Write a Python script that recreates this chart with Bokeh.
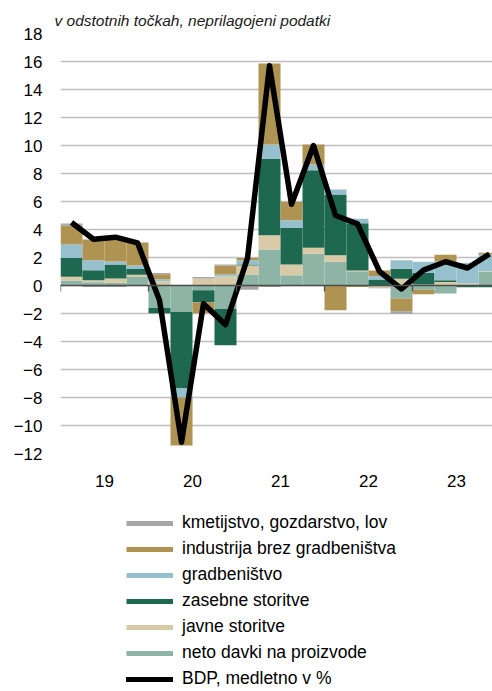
import numpy as np
from bokeh.plotting import figure
from bokeh.layouts import column
from bokeh.models import (ColumnDataSource, Range1d, LinearAxis, FixedTicker,
                          Legend, LegendItem)
from bokeh.embed import file_html
from bokeh.resources import INLINE

# ---------------- data ----------------
quarters = ["2019Q1", "2019Q2", "2019Q3", "2019Q4",
            "2020Q1", "2020Q2", "2020Q3", "2020Q4",
            "2021Q1", "2021Q2", "2021Q3", "2021Q4",
            "2022Q1", "2022Q2", "2022Q3", "2022Q4",
            "2023Q1", "2023Q2", "2023Q3", "2023Q4"]
year_labels = ["19", "20", "21", "22", "23"]

kmetijstvo = [0.15, -0.1, -0.1, 0.0, 0.1, 0.0, 0.1, 0.07, -0.3, -0.1,
              0.0, 0.0, 0.0, 0.0, -0.05, -0.18, 0.0, 0.0, 0.0, 0.0]
industrija = [1.35, 1.47, 1.74, 1.65, 0.35, -3.45, -0.8, 0.64, 0.17, 5.79,
              1.31, 1.43, -1.76, -0.1, 0.4, -0.91, -0.32, 0.47, 0.0, 0.12]
gradbenistvo = [0.95, 0.72, 0.21, 0.26, 0.15, -0.62, 0.0, 0.15, 0.3, 1.03,
                0.55, 0.4, 0.36, 0.31, 0.24, 0.61, 0.8, 1.35, 1.45, 1.2]
zasebne = [1.35, 0.71, 1.0, 0.4, -0.38, -5.46, -0.85, -2.6, 0.07, 5.45,
           2.61, 5.55, 4.34, 3.38, 0.43, 0.71, 0.83, 0.12, -0.12, -0.12]
javne = [0.27, 0.14, 0.31, 0.17, 0.3, 0.0, 0.5, 0.64, 0.64, 1.02,
         0.76, 0.43, 0.47, 0.05, -0.15, 0.48, 0.07, 0.25, 0.15, 0.05]
davki = [0.35, 0.24, 0.19, 0.6, -1.6, -1.9, -0.34, -1.67, 0.79, 2.57,
         0.74, 2.26, 1.69, 1.02, 0.0, -0.93, -0.3, -0.57, 0.0, 0.97]
bdp = [4.5, 3.3, 3.45, 3.05, -1.05, -11.2, -1.3, -2.8, 1.95, 15.7,
       5.8, 10.0, 5.0, 4.4, 1.0, -0.25, 1.1, 1.7, 1.25, 2.25]

series_names = ["kmetijstvo, gozdarstvo, lov", "industrija brez gradbeništva",
                "gradbeništvo", "zasebne storitve", "javne storitve",
                "neto davki na proizvode"]
series_values = [kmetijstvo, industrija, gradbenistvo, zasebne, javne, davki]
series_colors = ["#A6A6A6", "#AE9352", "#97C0CF", "#1F6850", "#D9CAA7", "#8EB4A5"]
line_name = "BDP, medletno v %"

# ---------------- sources ----------------
n = len(quarters)
x = [i + 0.5 for i in range(n)]
keys = ["kmet", "ind", "gradb", "zas", "jav", "dav"]
pos = {"x": x}
neg = {"x": x}
for k, vals in zip(keys, series_values):
    pos[k] = [max(v, 0.0) for v in vals]
    neg[k] = [min(v, 0.0) for v in vals]
pos_src = ColumnDataSource(pos)
neg_src = ColumnDataSource(neg)
line_src = ColumnDataSource(dict(x=x, y=bdp))

stack_keys = keys[::-1]          # bottom of stack first
stack_colors = series_colors[::-1]

FONT = "Liberation Sans"

p = figure(width=492, height=508,
           x_range=Range1d(0, 19.636), y_range=Range1d(-12, 18),
           output_backend="svg", toolbar_location=None,
           x_axis_location=None,
           min_border_left=60, min_border_right=0,
           min_border_top=33, min_border_bottom=55)
p.outline_line_color = None
p.background_fill_color = "white"
p.border_fill_color = "white"

# subtitle
p.title.text = "v odstotnih točkah, neprilagojeni podatki"
p.title.text_font = FONT
p.title.text_font_style = "italic"
p.title.text_font_size = "15.5px"
p.title.text_color = "#1a1a1a"
p.title.align = "left"
p.title.offset = -6
p.title.standoff = 9

# y axis
yticks = list(range(-12, 19, 2))
p.yaxis.ticker = FixedTicker(ticks=yticks)
p.yaxis.axis_line_color = None
p.yaxis.major_tick_line_color = None
p.yaxis.minor_tick_line_color = None
p.yaxis.major_tick_out = 0
p.yaxis.major_tick_in = 0
p.yaxis.major_label_standoff = 18
p.yaxis.major_label_text_font = FONT
p.yaxis.major_label_text_font_size = "17px"
p.yaxis.major_label_text_color = "black"
p.ygrid.ticker = FixedTicker(ticks=yticks)
p.ygrid.grid_line_color = "#BFBFBF"
p.ygrid.grid_line_width = 1.5
p.xgrid.grid_line_color = None

# bars
p.vbar_stack(stack_keys, x="x", width=1.0, source=pos_src,
             color=stack_colors, line_color=None)
p.vbar_stack(stack_keys, x="x", width=1.0, source=neg_src,
             color=stack_colors, line_color=None)

# line
p.line("x", "y", source=line_src, line_color="black",
       line_width=5.5, line_join="round")

# x label axis (year labels)
centers = [4 * i + 2 for i in range(len(year_labels))]
lab_axis = LinearAxis(ticker=FixedTicker(ticks=centers),
                      major_label_overrides={c: t for c, t in zip(centers, year_labels)},
                      axis_line_color=None, major_tick_line_color=None,
                      minor_tick_line_color=None, major_tick_out=0, major_tick_in=0,
                      major_label_standoff=21,
                      major_label_text_font=FONT,
                      major_label_text_font_size="17px",
                      major_label_text_color="black")
p.add_layout(lab_axis, "below")

# zero axis with year boundary ticks
bounds = [4 * i for i in range(len(year_labels) + 1)]
zero_axis = LinearAxis(fixed_location=0, ticker=FixedTicker(ticks=bounds),
                       axis_line_color="#4d4d4d", axis_line_width=1.3,
                       major_tick_line_color="#4d4d4d", major_tick_line_width=1.3,
                       major_tick_out=6, major_tick_in=0,
                       minor_tick_line_color=None,
                       major_label_standoff=0,
                       major_label_text_color=None,
                       major_label_text_font_size="1px")
p.add_layout(zero_axis, "below")

# ---------------- legend figure ----------------
lg = figure(width=492, height=183, output_backend="svg", toolbar_location=None,
            x_axis_location=None, y_axis_location=None,
            x_range=Range1d(0, 1), y_range=Range1d(0, 1),
            min_border=0, min_border_left=0, min_border_right=0,
            min_border_top=0, min_border_bottom=0)
lg.outline_line_color = None
lg.xgrid.grid_line_color = None
lg.ygrid.grid_line_color = None

nan = np.array([np.nan])
items = []
for name, c in zip(series_names, series_colors):
    r = lg.line(x=nan, y=nan, line_color=c, line_width=5, line_cap="butt")
    items.append(LegendItem(label=name, renderers=[r]))
r_bdp = lg.line(x=nan, y=nan, line_color="black", line_width=5, line_cap="round")
items.append(LegendItem(label=line_name, renderers=[r_bdp]))

legend = Legend(items=items, location=(66, 2),
                glyph_width=47, glyph_height=20, label_height=20,
                label_standoff=9, spacing=5, padding=0, margin=0,
                label_text_font=FONT, label_text_font_size="17.5px",
                label_text_color="black",
                border_line_color=None, background_fill_alpha=0)
lg.add_layout(legend, "center")

layout = column(p, lg, spacing=0)
open("out.html", "w").write(file_html(layout, INLINE))
